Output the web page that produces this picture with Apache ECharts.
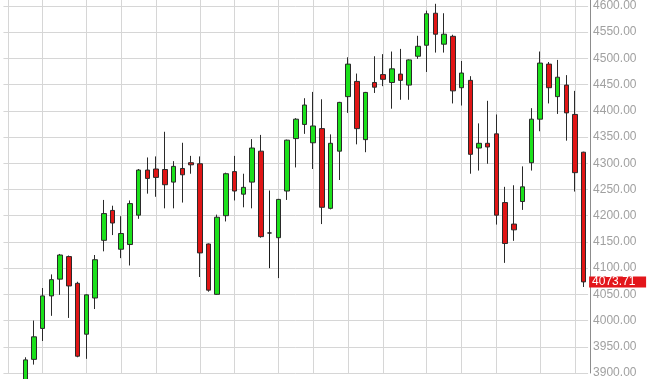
<!DOCTYPE html>
<html>
<head>
<meta charset="utf-8">
<style>
  html, body { margin: 0; padding: 0; background: #fff; }
  #chart { width: 648px; height: 379px; }
</style>
<script src="https://cdn.jsdelivr.net/npm/echarts@6/dist/echarts.min.js"></script>
</head>
<body>
<div id="chart"></div>
<script>
// Weekly candles (two leading weeks fall below the visible range)
const categories = [];
for (let i = -2; i <= 64; i++) categories.push('W' + i);

const opens  = ['-', '-', 3880, 3926, 3985, 4047, 4079, 4122, 4071, 3974, 4043, 4153, 4210, 4136, 4145, 4201, 4287, 4289, 4288, 4264, 4290, 4301, 4299, 4146, 4050, 4200, 4284, 4241, 4264, 4323, 4167, 4158, 4247, 4347, 4374, 4339, 4366, 4214, 4323, 4427, 4456, 4345, 4454, 4469, 4454, 4470, 4449, 4504, 4525, 4586, 4527, 4542, 4444, 4458, 4329, 4338, 4356, 4225, 4184, 4227, 4301, 4384, 4489, 4427, 4449, 4393, 4321];
const closes = ['-', '-', 3925, 3969, 4047, 4078, 4125, 4066, 3932, 4049, 4116, 4204, 4186, 4166, 4223, 4287, 4271, 4273, 4259, 4294, 4278, 4297, 4129, 4058, 4197, 4280, 4247, 4254, 4329, 4160, 4167, 4231, 4344, 4384, 4411, 4371, 4216, 4338, 4416, 4489, 4366, 4435, 4445, 4460, 4480, 4458, 4497, 4523, 4585, 4546, 4546, 4438, 4472, 4317, 4338, 4331, 4201, 4147, 4173, 4255, 4384, 4491, 4444, 4464, 4396, 4282, 4073.71];
const lows   = ['-', '-', 3870, 3916, 3961, 4009, 4049, 4005, 3930, 3927, 4022, 4132, 4163, 4119, 4105, 4194, 4242, 4236, 4214, 4214, 4225, 4280, 4083, 4055, 4049, 4189, 4229, 4216, 4214, 4158, 4100, 4081, 4230, 4292, 4356, 4289, 4184, 4212, 4268, 4396, 4336, 4321, 4434, 4447, 4404, 4421, 4421, 4499, 4474, 4511, 4511, 4414, 4410, 4280, 4286, 4299, 4183, 4110, 4152, 4211, 4286, 4361, 4414, 4394, 4343, 4246, 4064];
const highs  = ['-', '-', 3930, 4000, 4062, 4088, 4127, 4124, 4074, 4050, 4125, 4230, 4219, 4199, 4229, 4289, 4311, 4313, 4360, 4304, 4339, 4314, 4313, 4147, 4202, 4282, 4314, 4280, 4346, 4354, 4248, 4232, 4345, 4386, 4424, 4436, 4422, 4355, 4417, 4502, 4471, 4436, 4504, 4508, 4513, 4518, 4498, 4543, 4591, 4604, 4586, 4545, 4495, 4466, 4376, 4419, 4393, 4255, 4258, 4294, 4405, 4513, 4493, 4497, 4468, 4438, 4322];

// Month-start weeks that carry a vertical grid line
const monthLines = ['W-2', 'W2', 'W7', 'W11', 'W15', 'W20', 'W24', 'W29', 'W33', 'W37', 'W41', 'W46', 'W50', 'W54', 'W59', 'W63'];

const lastPrice = 4073.71;

const candleData = categories.map((c, i) =>
  opens[i] === '-' ? '-' : [opens[i], closes[i], lows[i], highs[i]]);

// helper axis of half-band steps so grid lines fall on candle centres
const halfSteps = [];
for (let k = 0; k <= categories.length * 2; k++) halfSteps.push(String(k));
const gridSteps = new Set(monthLines.map(c => categories.indexOf(c) * 2 + 1));

const chart = echarts.init(document.getElementById('chart'), null, { renderer: 'canvas' });
chart.setOption({
  animation: false,
  backgroundColor: '#ffffff',
  grid: { left: 3.44, right: 59.9, top: 0, bottom: 0, containLabel: false },
  xAxis: [
    {
      type: 'category',
      data: categories,
      boundaryGap: true,
      axisLine: { show: false },
      axisTick: { show: false },
      axisLabel: { show: false },
      splitLine: { show: false }
    },
    {
      type: 'category',
      data: halfSteps,
      boundaryGap: false,
      position: 'top',
      axisLine: { show: false },
      axisTick: { show: false },
      axisLabel: { show: false },
      splitLine: {
        show: true,
        interval: (idx) => gridSteps.has(idx),
        lineStyle: { color: '#d6d6d6', width: 1 }
      }
    }
  ],
  yAxis: {
    type: 'value',
    position: 'right',
    offset: 2,
    min: 3900,
    max: 4611.25,
    interval: 50,
    axisLine: { show: true, lineStyle: { color: '#8c8c8c', width: 1 } },
    axisTick: { show: false },
    axisLabel: {
      show: true,
      margin: 3,
      color: '#a0a0a0',
      fontSize: 12,
      fontFamily: 'Liberation Sans, Arial, sans-serif',
      showMaxLabel: false,
      formatter: v => (Math.abs(v % 50) < 1e-6 ? v.toFixed(2) : '')
    },
    splitLine: { show: true, showMaxLine: false, lineStyle: { color: '#d6d6d6', width: 1 } }
  },
  series: [
    {
      type: 'candlestick',
      xAxisIndex: 0,
      data: candleData,
      barWidth: 5,
      clip: false,
      itemStyle: {
        color: '#1be01b',
        color0: '#e01515',
        borderColor: '#2a2a2a',
        borderColor0: '#2a2a2a',
        borderColorDoji: '#1a1a1a',
        borderWidth: 1
      },
      markLine: {
        silent: true,
        symbol: ['none', 'none'],
        animation: false,
        lineStyle: { color: 'rgba(0,0,0,0)', width: 0 },
        label: {
          show: true,
          position: 'end',
          distance: 1,
          formatter: p => '{p|' + Number(p.value).toFixed(2) + '}',
          rich: {
            p: {
              color: '#ffffff',
              backgroundColor: '#e3161b',
              fontSize: 12,
              fontFamily: 'Liberation Sans, Arial, sans-serif',
              width: 52,
              align: 'left',
              height: 11,
              lineHeight: 11,
              padding: [0, 2, 0, 3]
            }
          }
        },
        data: [{ yAxis: lastPrice }]
      }
    }
  ]
});
</script>
</body>
</html>
